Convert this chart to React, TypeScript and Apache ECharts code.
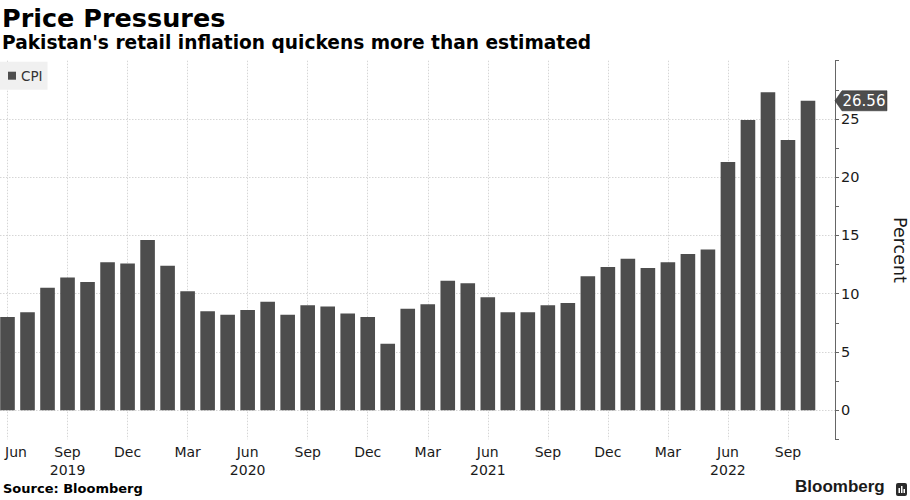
import React, { useEffect, useRef } from "react";
import * as echarts from "echarts";

const categories = [
  "Jun 2019", "Jul 2019", "Aug 2019", "Sep 2019", "Oct 2019", "Nov 2019", "Dec 2019",
  "Jan 2020", "Feb 2020", "Mar 2020", "Apr 2020", "May 2020", "Jun 2020", "Jul 2020",
  "Aug 2020", "Sep 2020", "Oct 2020", "Nov 2020", "Dec 2020",
  "Jan 2021", "Feb 2021", "Mar 2021", "Apr 2021", "May 2021", "Jun 2021", "Jul 2021",
  "Aug 2021", "Sep 2021", "Oct 2021", "Nov 2021", "Dec 2021",
  "Jan 2022", "Feb 2022", "Mar 2022", "Apr 2022", "May 2022", "Jun 2022", "Jul 2022",
  "Aug 2022", "Sep 2022", "Oct 2022",
];

const cpi = [
  8.0, 8.4, 10.5, 11.4, 11.0, 12.7, 12.6,
  14.6, 12.4, 10.2, 8.5, 8.2, 8.6, 9.3,
  8.2, 9.0, 8.9, 8.3, 8.0,
  5.7, 8.7, 9.1, 11.1, 10.9, 9.7, 8.4,
  8.4, 9.0, 9.2, 11.5, 12.3,
  13.0, 12.2, 12.7, 13.4, 13.8, 21.3, 24.9,
  27.3, 23.2, 26.56,
];

const xTickIndex = [0, 3, 6, 9, 12, 15, 18, 21, 24, 27, 30, 33, 36, 39];
const xTickMonth = ["Jun", "Sep", "Dec", "Mar", "Jun", "Sep", "Dec", "Mar", "Jun", "Sep", "Dec", "Mar", "Jun", "Sep"];
const xTickYear = ["", "2019", "", "", "2020", "", "", "", "2021", "", "", "", "2022", ""];
const yTickLabels = [0, 5, 10, 15, 20, 25];

const FONT = "DejaVu Sans";

export default function App() {
  const ref = useRef<HTMLDivElement>(null);

  useEffect(() => {
    const chart = echarts.init(ref.current!, null, { renderer: "svg" });
    const lastIndex = cpi.length - 1;
    const lastValue = cpi[lastIndex];

    const option: any = {
      animation: false,
      backgroundColor: "#ffffff",
      textStyle: { fontFamily: FONT },
      grid: {
        left: 0,
        right: 75,
        top: 60.7,
        bottom: 60.7,
        containLabel: false,
        outerBoundsMode: "none",
      },
      legend: {
        show: true,
        data: ["CPI"],
        left: 0,
        top: 61.7,
        backgroundColor: "#f0f0f0",
        padding: [7, 5, 7, 8],
        itemWidth: 8,
        itemHeight: 8,
        icon: "rect",
        selectedMode: false,
        textStyle: { fontFamily: FONT, fontSize: 13.5, color: "#333333", lineHeight: 14 },
      },
      xAxis: {
        type: "value",
        min: -0.375,
        max: 41.35,
        axisLine: { show: false, onZero: false },
        axisTick: { show: false, customValues: xTickIndex },
        splitLine: {
          show: true,
          lineStyle: { color: "#d6d6d6", type: [1.5, 1.5], width: 1 },
        },
        axisLabel: {
          customValues: xTickIndex,
          margin: 3.5,
          fontFamily: FONT,
          fontSize: 14,
          color: "#1a1a1a",
          lineHeight: 18,
          verticalAlign: "top",
          formatter: (v: number) => {
            const k = xTickIndex.indexOf(Math.round(v));
            if (k < 0) return "";
            const m = xTickMonth[k];
            const y = xTickYear[k];
            if (k === 0) return `{f|${m}}`;
            return y ? `${m}\n${y}` : m;
          },
          rich: {
            f: { padding: [0, 0, 0, 17], fontSize: 14, fontFamily: FONT, color: "#1a1a1a", lineHeight: 18 },
          },
        },
      },
      yAxis: [
        {
          type: "value",
          position: "right",
          min: -2.5,
          max: 30,
          interval: 2.5,
          axisLine: { show: true, onZero: false, lineStyle: { color: "#666666", width: 1 } },
          axisTick: { show: true, length: 4, lineStyle: { color: "#666666" } },
          splitLine: { show: false },
          axisLabel: {
            customValues: yTickLabels,
            margin: 6,
            fontFamily: FONT,
            fontSize: 14.5,
            color: "#1a1a1a",
          },
          name: "Percent",
          nameLocation: "middle",
          nameRotate: -90,
          nameGap: 56,
          nameTextStyle: { fontFamily: FONT, fontSize: 17.5, color: "#1a1a1a" },
        },
        {
          type: "value",
          position: "left",
          min: -2.5,
          max: 30,
          axisLine: { show: false, onZero: false },
          axisTick: { show: false, customValues: yTickLabels },
          axisLabel: { show: false },
          splitLine: {
            show: true,
            lineStyle: { color: "#d6d6d6", type: [1.5, 1.5], width: 1 },
          },
        },
      ],
      series: [
        {
          name: "CPI",
          type: "bar",
          yAxisIndex: 0,
          barWidth: 14.6,
          itemStyle: { color: "#4d4d4d" },
          data: cpi.map((v, i) => [i, v]),
          markPoint: {
            silent: true,
            symbol: "path://M0,10 L7,0 L52,0 L52,20 L7,20 Z",
            symbolSize: [52, 20],
            symbolKeepAspect: false,
            symbolOffset: [53, 0],
            itemStyle: { color: "#4d4d4d", borderColor: "#333333", borderWidth: 0.5 },
            label: {
              show: true,
              position: "inside",
              offset: [3, 0],
              color: "#ffffff",
              fontFamily: FONT,
              fontSize: 15,
              formatter: () => lastValue.toFixed(2),
            },
            data: [{ coord: [lastIndex, lastValue], value: lastValue }],
          },
        },
      ],
      graphic: [
        {
          type: "text",
          left: 2,
          top: 5,
          style: {
            text: "Price Pressures",
            fontFamily: FONT,
            fontWeight: "bold",
            fontSize: 25.5,
            fill: "#000000",
          },
        },
        {
          type: "text",
          left: 2,
          top: 33,
          style: {
            text: "Pakistan's retail inflation quickens more than estimated",
            fontFamily: FONT,
            fontWeight: "bold",
            fontSize: 18.6,
            fill: "#000000",
          },
        },
        {
          type: "text",
          left: 3,
          top: 482,
          style: {
            text: "Source: Bloomberg",
            fontFamily: FONT,
            fontWeight: "bold",
            fontSize: 13,
            fill: "#000000",
          },
        },
        {
          type: "text",
          left: 795,
          top: 478,
          style: {
            text: "Bloomberg",
            fontFamily: "Liberation Sans",
            fontWeight: "bold",
            fontSize: 17,
            fill: "#1a1a1a",
          },
        },
        {
          type: "group",
          left: 896,
          top: 483,
          children: [
            { type: "rect", shape: { x: 0, y: 0, width: 11, height: 13, r: 2 }, style: { fill: "#2b2b2b" } },
            { type: "rect", shape: { x: 2.5, y: 5, width: 1.5, height: 5 }, style: { fill: "#ffffff" } },
            { type: "rect", shape: { x: 5, y: 3, width: 1.5, height: 7 }, style: { fill: "#ffffff" } },
            { type: "rect", shape: { x: 7.5, y: 6, width: 1.5, height: 4 }, style: { fill: "#ffffff" } },
          ],
        },
      ],
    };

    chart.setOption(option);
    return () => chart.dispose();
  }, []);

  return (
    <div
      ref={ref}
      style={{ position: "fixed", left: 0, top: 0, width: 910, height: 500 }}
    />
  );
}
